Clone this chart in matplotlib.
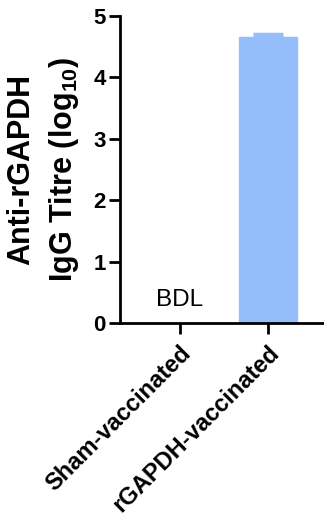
import matplotlib
matplotlib.use('Agg')
import matplotlib.pyplot as plt

plt.rcParams['font.family'] = ['Liberation Sans', 'DejaVu Sans']
plt.rcParams['mathtext.fontset'] = 'custom'
plt.rcParams['mathtext.rm'] = 'Liberation Sans'
plt.rcParams['mathtext.bf'] = 'Liberation Sans:bold'

groups = ['Sham-vaccinated', 'rGAPDH-vaccinated']
titre_mean = [0.0, 4.65]
titre_sem = [0.0, 0.06]
bdl_label = 'BDL'
bar_colour = '#94BEF9'

fig = plt.figure(figsize=(3.24, 5.15), dpi=100)
ax = fig.add_axes([0.370, 0.3728, 0.630, 0.5962])

x = list(range(len(groups)))
ax.bar(x[1], titre_mean[1], width=0.66, color=bar_colour, edgecolor=bar_colour, linewidth=1)
ax.errorbar(x[1], titre_mean[1], yerr=[[0], [titre_sem[1]]], fmt='none',
            ecolor=bar_colour, elinewidth=2, capsize=11, capthick=2.5)

# sham group below detection limit
ax.text(x[0], 0.2, bdl_label, ha='center', va='bottom', fontsize=17.5)

ax.set_xlim(-0.68, 1.64)
ax.set_ylim(0, 5)
ax.set_yticks([0, 1, 2, 3, 4, 5])
ax.set_xticks(x)
ax.set_xticklabels(groups, rotation=45, ha='right', rotation_mode='anchor',
                   fontsize=17, fontweight='bold')
for lab in ax.get_yticklabels():
    lab.set_fontweight('bold')
ax.tick_params(axis='y', labelsize=16, width=2, length=8, pad=2)
ax.tick_params(axis='x', width=2, length=8, pad=5)

for s in ['top', 'right']:
    ax.spines[s].set_visible(False)
for s in ['left', 'bottom']:
    ax.spines[s].set_linewidth(2)

ax.set_ylabel('Anti-rGAPDH\nIgG Titre (log$_{\\mathbf{10}}$)', fontsize=22,
              fontweight='bold', labelpad=9, linespacing=1.45)

plt.savefig('out.png', dpi=100)
